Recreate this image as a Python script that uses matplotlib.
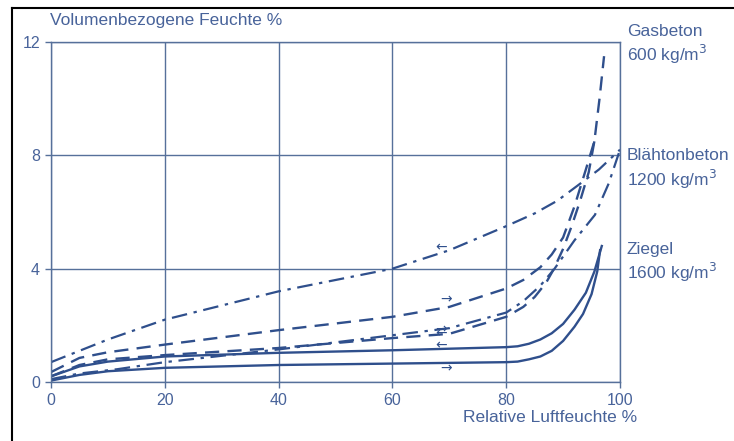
import matplotlib.pyplot as plt
from matplotlib.lines import Line2D

# Werte (rel. Luftfeuchte %, vol. Feuchte %)
gas_oben_x = [0, 5, 10, 20, 40, 60, 70, 80, 83, 86, 88, 90, 92, 94, 95.5, 96.4, 97.2]
gas_oben_y = [0.35, 0.85, 1.05, 1.32, 1.83, 2.3, 2.65, 3.3, 3.6, 4.05, 4.5, 5.1, 6.2, 7.5, 8.5, 10.0, 11.5]

gas_unten_x = [0, 5, 10, 20, 40, 60, 70, 80, 83, 85, 87, 88.4, 90, 91.5, 93, 94.5, 95.5]
gas_unten_y = [0.2, 0.6, 0.8, 0.95, 1.2, 1.55, 1.7, 2.3, 2.65, 3.0, 3.5, 4.0, 4.7, 5.5, 6.4, 7.4, 8.5]

blaeh_oben_x = [0, 10, 20, 40, 60, 70, 80, 85, 89, 93, 96.3, 100]
blaeh_oben_y = [0.7, 1.5, 2.2, 3.2, 4.0, 4.65, 5.5, 5.95, 6.4, 7.0, 7.5, 8.2]

blaeh_unten_x = [0, 5, 11.6, 20, 40, 60, 70, 80, 83, 86, 88.5, 92, 95.6, 98, 100]
blaeh_unten_y = [0.1, 0.3, 0.45, 0.7, 1.15, 1.65, 1.9, 2.45, 2.85, 3.4, 4.0, 5.0, 5.9, 7.0, 8.2]

ziegel_oben_x = [0, 5, 10, 20, 40, 60, 80, 82, 84, 86, 88, 90, 92, 94, 95.5, 96.8]
ziegel_oben_y = [0.2, 0.55, 0.72, 0.9, 1.03, 1.12, 1.23, 1.26, 1.35, 1.5, 1.72, 2.05, 2.55, 3.15, 3.9, 4.8]

ziegel_unten_x = [0, 5, 10, 20, 40, 60, 80, 82, 84, 86, 88, 90, 92, 93.5, 95, 96, 96.5]
ziegel_unten_y = [0.05, 0.25, 0.38, 0.5, 0.6, 0.65, 0.7, 0.72, 0.8, 0.9, 1.1, 1.45, 1.95, 2.4, 3.1, 3.9, 4.65]

x_ticks = [0, 20, 40, 60, 80, 100]
y_ticks = [0, 4, 8, 12]

materialien = ['Gasbeton\n600 kg/m$^3$', 'Blähtonbeton\n1200 kg/m$^3$', 'Ziegel\n1600 kg/m$^3$']
label_y = [11.9, 7.5, 4.2]

# Pfeile (Richtung der Sorption), Position und Richtung
pfeil_x = [68.6, 69.5, 68.6, 68.6, 69.5]
pfeil_y = [4.75, 2.9, 1.78, 1.3, 0.49]
pfeil_richtung = ['←', '→', '⇄', '←', '→']

linie_farbe = '#2f4f8c'
gitter_farbe = '#56709a'
text_farbe = '#48639a'

plt.rcParams['font.family'] = ['Liberation Sans', 'DejaVu Sans']

fig = plt.figure(figsize=(7.34, 4.41), dpi=100)
ax = fig.add_axes([51 / 734, 59 / 441, 569 / 734, 340 / 441])

ax.plot(gas_oben_x, gas_oben_y, color=linie_farbe, lw=1.7, dashes=(6, 3.5))
ax.plot(gas_unten_x, gas_unten_y, color=linie_farbe, lw=1.7, dashes=(6, 3.5))
ax.plot(blaeh_oben_x, blaeh_oben_y, color=linie_farbe, lw=1.6, dashes=(7, 3, 1.5, 3))
ax.plot(blaeh_unten_x, blaeh_unten_y, color=linie_farbe, lw=1.6, dashes=(7, 3, 1.5, 3))
ax.plot(ziegel_oben_x, ziegel_oben_y, color=linie_farbe, lw=1.7)
ax.plot(ziegel_unten_x, ziegel_unten_y, color=linie_farbe, lw=1.7)

for px, py, r in zip(pfeil_x, pfeil_y, pfeil_richtung):
    ax.text(px, py, r, color=linie_farbe, fontsize=10, ha='center', va='center',
            family=['DejaVu Sans'])

ax.set_xlim(0, 100)
ax.set_ylim(0, 12)
ax.set_xticks(x_ticks)
ax.set_yticks(y_ticks)
ax.grid(True, color=gitter_farbe, lw=1.0)
ax.set_axisbelow(True)
for s in ax.spines.values():
    s.set_color(gitter_farbe)
    s.set_linewidth(1.0)
ax.tick_params(colors=gitter_farbe, labelcolor=text_farbe, labelsize=11.5, length=4,
               width=1.0, pad=4)

for t, ly in zip(materialien, label_y):
    ax.text(101.2, ly, t, color=text_farbe, fontsize=12.5, va='center', ha='left',
            linespacing=1.25)

fig.text(50 / 734, 1 - 20 / 441, 'Volumenbezogene Feuchte %', color=text_farbe,
         fontsize=12.5, va='center', ha='left')
fig.text(637 / 734, 1 - 417 / 441, 'Relative Luftfeuchte %', color=text_farbe,
         fontsize=12.5, va='center', ha='right')

# Rahmen oben und links (Scan-Rand)
fig.add_artist(Line2D([12 / 734, 12 / 734], [0, 1 - 8 / 441], color='black', lw=1.5))
fig.add_artist(Line2D([12 / 734, 1], [1 - 8 / 441, 1 - 8 / 441], color='black', lw=1.5))

fig.savefig('out.png', dpi=100)
